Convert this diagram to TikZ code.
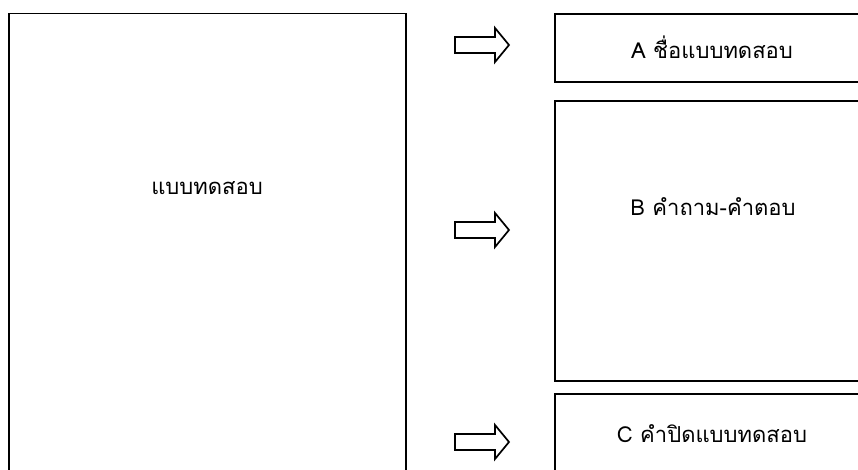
\documentclass[tikz,border=0pt]{standalone}
\usepackage{fontspec}
\newfontfamily\thaifont[Script=Thai]{Loma}
\begin{document}
\begin{tikzpicture}[x=1pt,y=-1pt,
  box/.style={draw=black,line width=1.9pt},
  lbl/.style={font=\thaifont\fontsize{22}{26}\selectfont,inner sep=0pt,anchor=center},
  blockarrow/.style={draw=black,line width=1.7pt,fill=white,line join=miter}]
\useasboundingbox (0,0) rectangle (858,470);
\begin{scope}
\clip (0,0) rectangle (858,470);
\draw[box] (9,13.5) rectangle (406,480);
\draw[box] (555,14) rectangle (880,82);
\draw[box] (555,101) rectangle (880,381);
\draw[box] (555,394) rectangle (880,490);
\end{scope}
\node[lbl] (main) at (207,188) {แบบทดสอบ};
\node[lbl] (a) at (712,47) {A ชื่อแบบทดสอบ};
\node[lbl] (b) at (713,207) {B คำถาม-คำตอบ};
\node[lbl] (c) at (712,434) {C คำปิดแบบทดสอบ};
\foreach \n/\cy in {arA/45,arB/230,arC/442}{
  \coordinate (\n) at (482,\cy);
  \draw[blockarrow] ([shift={(-27,-8)}]\n) -- ([shift={(13,-8)}]\n) -- ([shift={(13,-17)}]\n)
     -- ([shift={(27,0)}]\n) -- ([shift={(13,17)}]\n) -- ([shift={(13,8)}]\n)
     -- ([shift={(-27,8)}]\n) -- cycle;
}
\end{tikzpicture}
\end{document}
